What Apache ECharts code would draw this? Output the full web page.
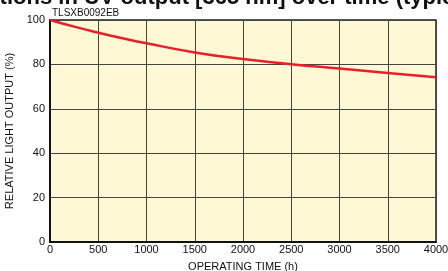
<!DOCTYPE html>
<html>
<head>
<meta charset="utf-8">
<script src="https://cdn.jsdelivr.net/npm/echarts@6/dist/echarts.min.js"></script>
<style>
  html, body { margin: 0; padding: 0; background: #fff; }
  #chart { width: 448px; height: 271px; }
</style>
</head>
<body>
<div id="chart"></div>
<script>
// operating time (h) and relative light output (%)
const hours = [0, 250, 500, 750, 1000, 1500, 2000, 2500, 3000, 3500, 4000];
const output = [100, 97, 94.3, 91.8, 89.5, 85.4, 82.4, 80.1, 78.1, 76.1, 74.2];
const xTicks = [0, 500, 1000, 1500, 2000, 2500, 3000, 3500, 4000];
const yTicks = [0, 20, 40, 60, 80, 100];

const chart = echarts.init(document.getElementById('chart'));
const font = 'Liberation Sans, Arial, sans-serif';

chart.setOption({
  animation: false,
  title: {
    text: 'Variations in UV output [365 nm] over time (typical)',
    left: -58,
    top: -18,
    textStyle: { fontFamily: font, fontSize: 22, fontWeight: 'bold', color: '#111' }
  },
  graphic: [
    {
      type: 'text',
      left: 52,
      top: 8,
      style: { text: 'TLSXB0092EB', font: '10px ' + font, fill: '#111' }
    }
  ],
  grid: {
    left: 50, right: 12, top: 20, bottom: 29,
    outerBoundsMode: 'none',
    show: true,
    backgroundColor: '#fff8d4',
    borderColor: '#222',
    borderWidth: 1.5
  },
  xAxis: {
    type: 'value',
    min: 0,
    max: 4000,
    interval: 500,
    name: 'OPERATING TIME (h)',
    nameLocation: 'middle',
    nameGap: 19,
    nameTextStyle: { fontFamily: font, fontSize: 11, color: '#111' },
    axisLine: { show: true, lineStyle: { color: '#111', width: 2 } },
    axisTick: { show: false },
    axisLabel: {
      fontFamily: font, fontSize: 11, color: '#111', margin: 2,
      formatter: v => xTicks.includes(v) ? String(v) : ''
    },
    splitLine: { show: true, lineStyle: { color: '#444', width: 1 } }
  },
  yAxis: {
    type: 'value',
    min: 0,
    max: 100,
    interval: 20,
    name: 'RELATIVE LIGHT OUTPUT (%)',
    nameLocation: 'middle',
    nameGap: 29,
    nameTextStyle: { fontFamily: font, fontSize: 11, color: '#111' },
    axisLine: { show: true, lineStyle: { color: '#111', width: 2 } },
    axisTick: { show: false },
    axisLabel: {
      fontFamily: font, fontSize: 11, color: '#111', margin: 5,
      formatter: v => yTicks.includes(v) ? String(v) : ''
    },
    splitLine: { show: true, lineStyle: { color: '#444', width: 1 } }
  },
  series: [
    {
      type: 'line',
      data: hours.map((h, i) => [h, output[i]]),
      smooth: true,
      symbol: 'none',
      lineStyle: { color: '#e8202a', width: 2.5 },
      z: 5
    }
  ]
});
</script>
</body>
</html>
